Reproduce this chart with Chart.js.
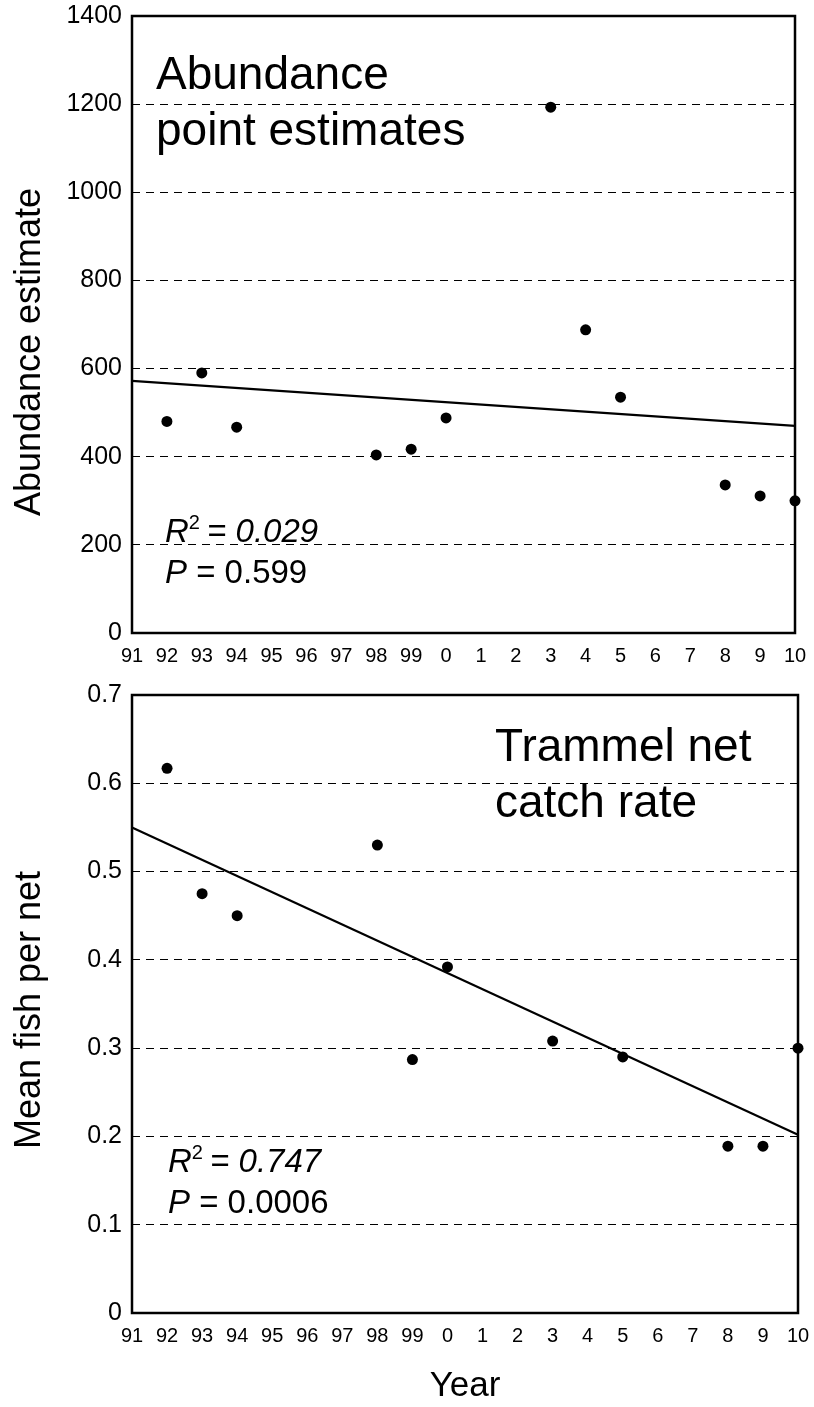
<!DOCTYPE html>
<html lang="en">
  <head>
    <meta charset="UTF-8" />
    <title>Abundance and trammel net catch rate</title>
    <style>
      body { margin: 0; background: #fff; }
      #wrap { position: relative; width: 814px; height: 1407px; }
      canvas { position: absolute; left: 0; }
    </style>
  </head>
  <body>
    <div id="wrap">
      <canvas id="topChart" width="814" height="680" style="top: 0"></canvas>
      <canvas id="bottomChart" width="814" height="727" style="top: 680px"></canvas>
    </div>
  </body>
  <script src="https://cdn.jsdelivr.net/npm/chart.js"></script>
  <script>
    // x axis: years 1991-2010, written as two-digit labels
    var yearLabels = ["91", "92", "93", "94", "95", "96", "97", "98", "99", "0",
                      "1", "2", "3", "4", "5", "6", "7", "8", "9", "10"];
    var trendYears = [1991, 2010];

    // top panel: abundance point estimates
    var abundanceYears = [1992, 1993, 1994, 1998, 1999, 2000, 2003, 2004, 2005, 2008, 2009, 2010];
    var abundanceValues = [480, 590, 467, 404, 417, 488, 1193, 688, 535, 336, 311, 300];
    var abundanceTrend = [572, 470];
    var abundanceTicks = [0, 200, 400, 600, 800, 1000, 1200, 1400];

    // bottom panel: trammel net catch rate
    var catchYears = [1992, 1993, 1994, 1998, 1999, 2000, 2003, 2005, 2008, 2009, 2010];
    var catchValues = [0.617, 0.475, 0.45, 0.53, 0.287, 0.392, 0.308, 0.29, 0.189, 0.189, 0.30];
    var catchTrend = [0.55, 0.202];
    var catchTicks = [0, 0.1, 0.2, 0.3, 0.4, 0.5, 0.6, 0.7];

    var FONT = '"Liberation Sans", Arial, sans-serif';

    function pairs(xs, ys) {
      return xs.map((x, i) => ({ x: x, y: ys[i] }));
    }

    // frame, axis titles and the text notes inside the plot
    const notesPlugin = {
      id: "notes",
      afterDraw(chart, args, o) {
        const ctx = chart.ctx, a = chart.chartArea;
        ctx.save();
        ctx.strokeStyle = "#000";
        ctx.lineWidth = 2.5;
        ctx.strokeRect(a.left, a.top, a.right - a.left, a.bottom - a.top);

        ctx.fillStyle = "#000";
        ctx.textBaseline = "alphabetic";

        // heading
        ctx.textAlign = "left";
        ctx.font = "46px " + FONT;
        o.heading.forEach((line, i) => ctx.fillText(line, o.headX, o.headY + i * 56));

        // R^2 line
        let x = o.statX;
        ctx.font = "italic 33px " + FONT;
        ctx.fillText("R", x, o.statY);
        x += ctx.measureText("R").width;
        ctx.font = "20px " + FONT;
        ctx.fillText("2", x, o.statY - 13);
        x += ctx.measureText("2").width - 2;
        ctx.font = "italic 33px " + FONT;
        ctx.fillText(" = " + o.r2, x, o.statY);

        // P line
        x = o.statX;
        ctx.fillText("P", x, o.statY + 41);
        x += ctx.measureText("P").width;
        ctx.font = "33px " + FONT;
        ctx.fillText(" = " + o.p, x, o.statY + 41);

        // y axis title
        ctx.font = "36px " + FONT;
        ctx.textAlign = "center";
        ctx.textBaseline = "middle";
        ctx.save();
        ctx.translate(30, o.yTitleY);
        ctx.rotate(-Math.PI / 2);
        ctx.fillText(o.yTitle, 0, 0);
        ctx.restore();

        if (o.xTitle) {
          ctx.font = "35px " + FONT;
          ctx.textBaseline = "alphabetic";
          ctx.fillText(o.xTitle, (a.left + a.right) / 2, o.xTitleY);
        }
        ctx.restore();
      },
    };

    function makeChart(id, pts, trend, ticks, yMax, pad, xHeight, notes) {
      return new Chart(document.getElementById(id), {
        type: "scatter",
        data: {
          datasets: [
            {
              data: pts,
              pointRadius: 5.5,
              pointBackgroundColor: "#000",
              pointBorderWidth: 0,
              clip: false,
            },
            {
              data: pairs(trendYears, trend),
              showLine: true,
              pointRadius: 0,
              borderColor: "#000",
              borderWidth: 2.2,
              clip: false,
            },
          ],
        },
        options: {
          responsive: false,
          animation: false,
          devicePixelRatio: 1,
          layout: { padding: pad },
          plugins: { legend: { display: false }, tooltip: { enabled: false }, notes: notes },
          scales: {
            x: {
              type: "linear",
              min: 1991,
              max: 2010,
              grid: { display: false, drawTicks: false },
              border: { display: false },
              afterFit: (s) => {
                s.height = xHeight;
                s.paddingLeft = 0;
                s.paddingRight = 0;
              },
              ticks: {
                stepSize: 1,
                autoSkip: false,
                maxRotation: 0,
                padding: 11,
                color: "#000",
                font: { family: FONT, size: 20 },
                callback: (v) => yearLabels[v - 1991],
              },
            },
            y: {
              min: 0,
              max: yMax,
              afterFit: (s) => {
                s.width = 132;
                s.paddingTop = 0;
                s.paddingBottom = 0;
              },
              grid: { color: "#000", lineWidth: 1, drawTicks: false },
              border: { display: false, dash: [8, 6] },
              afterBuildTicks: (s) => { s.ticks = ticks.map((v) => ({ value: v })); },
              ticks: {
                padding: 10,
                color: "#000",
                font: { family: FONT, size: 25 },
                callback: (v) => String(v),
              },
            },
          },
        },
        plugins: [notesPlugin],
      });
    }

    makeChart("topChart", pairs(abundanceYears, abundanceValues), abundanceTrend,
      abundanceTicks, 1400, { top: 16, right: 19, left: 0, bottom: 0 }, 47, {
        heading: ["Abundance", "point estimates"], headX: 156, headY: 89,
        statX: 165, statY: 542, r2: "0.029", p: "0.599",
        yTitle: "Abundance estimate", yTitleY: 352,
      });

    makeChart("bottomChart", pairs(catchYears, catchValues), catchTrend,
      catchTicks, 0.7, { top: 15, right: 16, left: 0, bottom: 0 }, 94, {
        heading: ["Trammel net", "catch rate"], headX: 495, headY: 81,
        statX: 168, statY: 492, r2: "0.747", p: "0.0006",
        yTitle: "Mean fish per net", yTitleY: 330,
        xTitle: "Year", xTitleY: 716,
      });
  </script>
</html>
